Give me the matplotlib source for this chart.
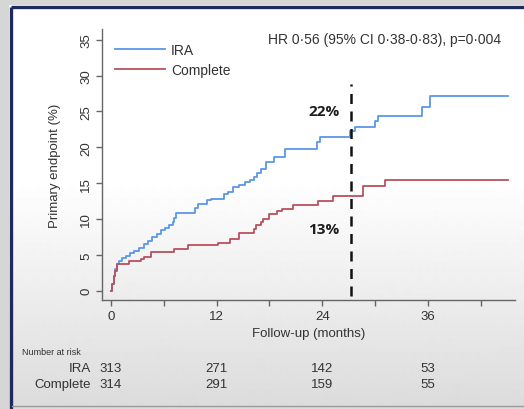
import numpy as np
import matplotlib.pyplot as plt
from matplotlib.patches import Rectangle
from matplotlib import transforms

plt.rcParams['font.family'] = ['Liberation Sans', 'DejaVu Sans']

# Kaplan-Meier style cumulative incidence (step times in months, value in %)
ira_t = [0, 0.15, 0.3, 0.5, 0.7, 0.9, 1.3, 1.7, 2.2, 2.6, 3.2, 3.7, 4.2, 4.7, 5.2,
         5.7, 6.1, 6.6, 7.0, 7.2, 7.4, 9.6, 9.9, 10.9, 11.4, 12.8, 13.3, 13.9,
         14.5, 15.2, 15.8, 16.3, 16.6, 17.1, 17.6, 18.5, 19.8, 23.4, 23.8, 27.1,
         27.7, 30.0, 30.3, 35.3, 36.2]
ira_v = [0, 1.0, 2.0, 3.0, 3.7, 4.2, 4.5, 4.9, 5.2, 5.6, 6.0, 6.5, 6.9, 7.45, 7.9,
         8.4, 8.7, 9.1, 9.6, 10.1, 10.9, 11.5, 12.1, 12.6, 12.8, 13.5, 13.7, 14.4,
         14.7, 15.1, 15.5, 15.9, 16.4, 17.0, 17.9, 18.6, 19.8, 20.7, 21.4, 22.3,
         22.8, 23.7, 24.3, 25.6, 27.2]

complete_t = [0, 0.15, 0.3, 0.45, 0.65, 2.1, 3.4, 3.8, 4.5, 7.2, 8.8, 12.2, 13.5,
              14.6, 16.2, 16.5, 17.0, 17.3, 18.0, 18.9, 19.4, 20.7, 23.5, 25.2,
              28.6, 31.1]
complete_v = [0, 1.0, 2.0, 2.8, 3.7, 4.2, 4.4, 4.7, 5.4, 5.8, 6.4, 6.7, 7.2,
              8.05, 8.6, 9.1, 9.6, 10.0, 10.7, 11.1, 11.4, 11.95, 12.55, 13.25,
              14.65, 15.5]

end_month = 45.1
landmark = 27.3

risk_months = [0, 12, 24, 36]
ira_risk = [313, 271, 142, 53]
complete_risk = [314, 291, 159, 55]

blue = '#5b97e8'
red = '#b9505f'
txt = '#333333'

fig = plt.figure(figsize=(5.24, 4.10), dpi=100)

# slide background: white fading to grey, navy frame on the left/top
bg = fig.add_axes([0, 0, 1, 1])
bg.axis('off')
rows = np.ones(410)
rows[180:] = np.linspace(1.0, 0.86, 230)
bg.imshow(rows[:, None], cmap='gray', vmin=0, vmax=1, aspect='auto',
          extent=[0, 524, 410, 0], interpolation='bilinear')
bg.add_patch(Rectangle((0, 0), 9, 410, color='#d6d6d6', lw=0))
bg.add_patch(Rectangle((0, 0), 524, 6, color='#d6d6d6', lw=0))
bg.plot([10.5, 10.5], [7.5, 410], color='#1c2a5e', lw=2.4, solid_capstyle='butt')
bg.plot([10.5, 524], [7.5, 7.5], color='#1c2a5e', lw=2.4, solid_capstyle='butt')
bg.plot([12, 524], [406.5, 406.5], color='#9a9a9a', lw=1)
bg.set_xlim(0, 524)
bg.set_ylim(410, 0)

ax = fig.add_axes([102 / 524, 1 - 301 / 410, 413 / 524, 271 / 410])
ax.patch.set_alpha(0)

ax.step(ira_t + [end_month], ira_v + [ira_v[-1]], where='post', color=blue, lw=1.3, label='IRA')
ax.step(complete_t + [end_month], complete_v + [complete_v[-1]], where='post',
        color=red, lw=1.3, label='Complete')

ax.vlines(landmark, -0.8, 28.8, colors='#111111', lw=1.8, linestyles=(0, (4, 3)))
ax.text(26.0, 25.0, '22%', ha='right', va='center', fontsize=11, fontweight='bold',
        color='#1e1e1e', family=['Open Sans', 'DejaVu Sans'])
ax.text(25.9, 8.6, '13%', ha='right', va='center', fontsize=11, fontweight='bold',
        color='#1e1e1e', family=['Open Sans', 'DejaVu Sans'])

ax.set_xlim(-1.02, 45.9)
ax.set_ylim(-1.3, 36.5)
ax.set_xticks(risk_months)
ax.set_xticks([6, 18, 30, 42], minor=True)
ax.set_yticks(range(0, 40, 5))
for s in ['top', 'right']:
    ax.spines[s].set_visible(False)
for s in ['left', 'bottom']:
    ax.spines[s].set_color('#666666')
    ax.spines[s].set_linewidth(1.0)
ax.tick_params(which='both', length=4, width=1, color='#666666', labelcolor=txt, labelsize=9.5)
ax.tick_params(axis='y', labelrotation=90, pad=3)
for lab in ax.get_yticklabels():
    lab.set_va('center')

ax.set_ylabel('Primary endpoint (%)', fontsize=9.5, color=txt, labelpad=14)
ax.set_xlabel('Follow-up (months)', fontsize=9.5, color=txt, labelpad=3)

ax.legend(loc='upper left', bbox_to_anchor=(0.0, 0.995), frameon=False, fontsize=10,
          handlelength=3.6, handletextpad=0.45, labelspacing=0.45, labelcolor=txt)

fig.text(268 / 524, 1 - 40 / 410, 'HR 0·56 (95% CI 0·38-0·83), p=0·004', fontsize=10,
         color=txt, va='center')

# number at risk table below the axis
fig.text(22 / 524, 1 - 353 / 410, 'Number at risk', fontsize=6.5, color=txt, va='center')
trans = transforms.blended_transform_factory(ax.transData, fig.transFigure)
for name, counts, ypix in [('IRA', ira_risk, 369), ('Complete', complete_risk, 385)]:
    fig.text(91 / 524, 1 - ypix / 410, name, fontsize=9.5, color=txt, ha='right', va='center')
    for m, n in zip(risk_months, counts):
        ax.text(m, 1 - ypix / 410, str(n), transform=trans, fontsize=9.5, color=txt,
                ha='center', va='center')

fig.savefig('out.png', dpi=100)
